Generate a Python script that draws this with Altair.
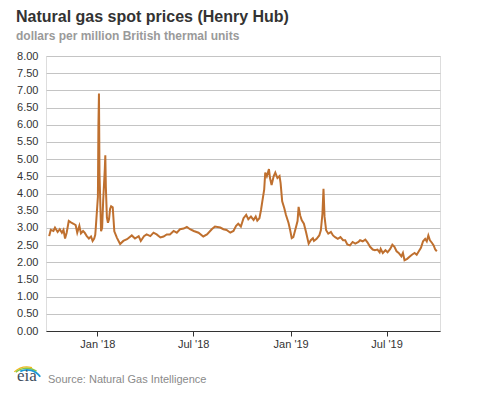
import altair as alt
import pandas as pd

TITLE = "Natural gas spot prices (Henry Hub)"
SUBTITLE = "dollars per million British thermal units"
SOURCE = "Source: Natural Gas Intelligence"

dates = [
    "2017-10-02", "2017-10-05", "2017-10-10", "2017-10-13", "2017-10-18", "2017-10-22",
    "2017-10-26", "2017-10-29", "2017-11-01", "2017-11-04", "2017-11-08", "2017-11-12",
    "2017-11-17", "2017-11-21", "2017-11-24", "2017-11-28", "2017-12-01", "2017-12-05",
    "2017-12-08", "2017-12-12", "2017-12-16", "2017-12-20", "2017-12-23", "2017-12-26",
    "2017-12-28", "2017-12-29",
    "2018-01-02", "2018-01-03", "2018-01-04", "2018-01-05", "2018-01-08", "2018-01-10",
    "2018-01-12", "2018-01-15", "2018-01-16", "2018-01-17", "2018-01-19", "2018-01-21",
    "2018-01-23", "2018-01-25", "2018-01-27", "2018-01-30", "2018-02-02", "2018-02-07",
    "2018-02-13", "2018-02-19", "2018-02-26", "2018-03-07", "2018-03-13", "2018-03-20",
    "2018-03-24", "2018-03-30", "2018-04-04", "2018-04-11", "2018-04-17", "2018-04-23",
    "2018-04-30", "2018-05-06", "2018-05-12", "2018-05-18", "2018-05-25", "2018-05-31",
    "2018-06-06", "2018-06-13", "2018-06-19", "2018-06-25", "2018-07-02", "2018-07-11",
    "2018-07-20", "2018-07-27", "2018-08-05", "2018-08-11", "2018-08-21", "2018-08-27",
    "2018-09-02", "2018-09-09", "2018-09-15", "2018-09-20", "2018-09-24", "2018-09-29",
    "2018-10-04", "2018-10-09", "2018-10-13", "2018-10-18", "2018-10-23", "2018-10-27",
    "2018-10-30", "2018-11-03", "2018-11-06", "2018-11-09", "2018-11-12", "2018-11-14",
    "2018-11-17", "2018-11-21", "2018-11-23", "2018-11-26", "2018-11-30", "2018-12-03",
    "2018-12-07", "2018-12-11", "2018-12-13", "2018-12-16", "2018-12-20", "2018-12-23",
    "2018-12-28", "2018-12-31",
    "2019-01-03", "2019-01-06", "2019-01-10", "2019-01-14", "2019-01-16", "2019-01-19",
    "2019-01-22", "2019-01-26", "2019-01-30", "2019-02-04", "2019-02-08", "2019-02-12",
    "2019-02-14", "2019-02-19", "2019-02-24", "2019-02-27", "2019-03-02", "2019-03-04",
    "2019-03-06", "2019-03-09", "2019-03-13", "2019-03-18", "2019-03-22", "2019-03-26",
    "2019-03-31", "2019-04-05", "2019-04-10", "2019-04-14", "2019-04-18", "2019-04-23",
    "2019-04-28", "2019-05-03", "2019-05-09", "2019-05-12", "2019-05-17", "2019-05-22",
    "2019-05-26", "2019-05-31", "2019-06-05", "2019-06-09", "2019-06-14", "2019-06-18",
    "2019-06-20", "2019-06-24", "2019-06-29", "2019-07-03", "2019-07-08", "2019-07-12",
    "2019-07-16", "2019-07-20", "2019-07-24", "2019-07-29", "2019-08-01", "2019-08-04",
    "2019-08-09", "2019-08-14", "2019-08-18", "2019-08-23", "2019-08-27", "2019-08-31",
    "2019-09-04", "2019-09-08", "2019-09-12", "2019-09-15", "2019-09-18", "2019-09-21",
    "2019-09-25", "2019-09-28", "2019-10-01", "2019-10-04",
]

prices = [
    2.76, 2.94, 2.91, 3.01, 2.88, 2.96,
    2.86, 2.94, 2.69, 2.86, 3.20, 3.16,
    3.12, 3.08, 2.86, 3.06, 2.84, 2.91,
    2.86, 2.76, 2.69, 2.75, 2.62, 2.69,
    2.80, 3.00,
    3.90, 6.00, 6.91, 4.60, 2.90, 3.00,
    3.80, 4.70, 5.11, 4.20, 3.30, 3.15,
    3.25, 3.55, 3.63, 3.60, 2.90, 2.71,
    2.53, 2.62, 2.67, 2.78, 2.69, 2.76,
    2.62, 2.76, 2.81, 2.76, 2.86, 2.81,
    2.72, 2.75, 2.81, 2.81, 2.91, 2.86,
    2.96, 2.98, 3.03, 2.96, 2.91, 2.86,
    2.75, 2.81, 2.96, 3.04, 3.01, 2.96,
    2.94, 2.86, 2.91, 3.06, 3.12, 3.04,
    3.28, 3.38, 3.25, 3.33, 3.23, 3.33,
    3.21, 3.28, 3.52, 3.82, 4.11, 4.61,
    4.50, 4.71, 4.45, 4.25, 4.51, 4.61,
    4.45, 4.51, 4.30, 3.77, 3.57, 3.38,
    3.14, 2.94,
    2.70, 2.73, 2.96, 3.20, 3.61, 3.36,
    3.22, 3.12, 2.88, 2.54, 2.64, 2.70,
    2.62, 2.68, 2.78, 2.93, 3.41, 4.14,
    3.32, 2.93, 2.83, 2.88, 2.78, 2.73,
    2.68, 2.73, 2.64, 2.64, 2.52, 2.49,
    2.59, 2.54, 2.59, 2.64, 2.61, 2.66,
    2.58, 2.45, 2.37, 2.35, 2.37, 2.29,
    2.39, 2.27, 2.35, 2.29, 2.39, 2.51,
    2.45, 2.32, 2.27, 2.17, 2.27, 2.06,
    2.10, 2.17, 2.22, 2.27, 2.22, 2.32,
    2.42, 2.61, 2.68, 2.61, 2.78, 2.64,
    2.56, 2.49, 2.37, 2.32,
]

y_ticks = [i * 0.5 for i in range(17)]
x_ticks = ["2018-01-01", "2018-07-01", "2019-01-01", "2019-07-01"]
x_domain = ["2017-09-26", "2019-10-10"]

FONT = "Liberation Sans"
LINE_COLOR = "#bf702f"

df = pd.DataFrame({"date": dates, "price": prices})

def dt(s):
    y, m, d = s.split("-")
    return alt.DateTime(year=int(y), month=int(m), date=int(d))

line = alt.Chart(df).mark_line(color=LINE_COLOR, strokeWidth=2).encode(
    x=alt.X(
        "date:T",
        scale=alt.Scale(domain=[dt(s) for s in x_domain]),
        axis=alt.Axis(
            values=[dt(s) for s in x_ticks],
            format="%b '%y",
            title=None,
            grid=False,
            labelFontSize=11,
            labelColor="#333333",
            labelPadding=2,
            tickSize=5,
            tickColor="#333333",
            domainColor="#333333",
            labelFont=FONT,
        ),
    ),
    y=alt.Y(
        "price:Q",
        scale=alt.Scale(domain=[0, 8], nice=False),
        axis=alt.Axis(
            values=y_ticks,
            format=".2f",
            title=None,
            grid=True,
            gridColor="#c4c4c4",
            domain=False,
            ticks=False,
            labelFontSize=11,
            labelColor="#333333",
            labelPadding=8,
            labelFont=FONT,
        ),
    ),
)

def text_layer(txt, x, y, size, color, weight="normal", font=FONT):
    return alt.Chart(pd.DataFrame({"t": [txt]})).mark_text(
        align="left", baseline="alphabetic", fontSize=size, fontWeight=weight,
        color=color, font=font,
    ).encode(text="t:N", x=alt.value(x), y=alt.value(y))

title = text_layer(TITLE, -30, -34.5, 16, "#333333", "bold")
subtitle = text_layer(SUBTITLE, -30, -16, 12, "#9a9a9a", "bold")
source = text_layer(SOURCE, 2, 327, 11, "#8a8a8a")
logo_text = text_layer("eia", -29, 325, 17, "#3d4b5c", "normal", "Liberation Serif")

def arc_layer(r1, r2, t1, t2, color):
    return alt.Chart(pd.DataFrame({"a": [0]})).mark_arc(
        theta=t1, theta2=t2, radius=r1, radius2=r2, color=color
    ).encode(x=alt.value(-19), y=alt.value(330))

arcs = (
    arc_layer(18.5, 19.6, 5.55, 6.55, "#f2b81c")
    + arc_layer(17.0, 18.5, 5.6, 6.85, "#8cc63f")
    + arc_layer(15.2, 17.0, 5.85, 7.25, "#1c9ad6")
)

chart = alt.layer(line, title, subtitle, source, arcs, logo_text).properties(
    width=394,
    height=275,
    autosize=alt.AutoSizeParams(type="none"),
    padding={"left": 38, "top": 48, "right": 29, "bottom": 54},
).configure_view(stroke=None).configure(font=FONT)

chart.save("out.html", embed_options={"renderer": "svg", "actions": False})
